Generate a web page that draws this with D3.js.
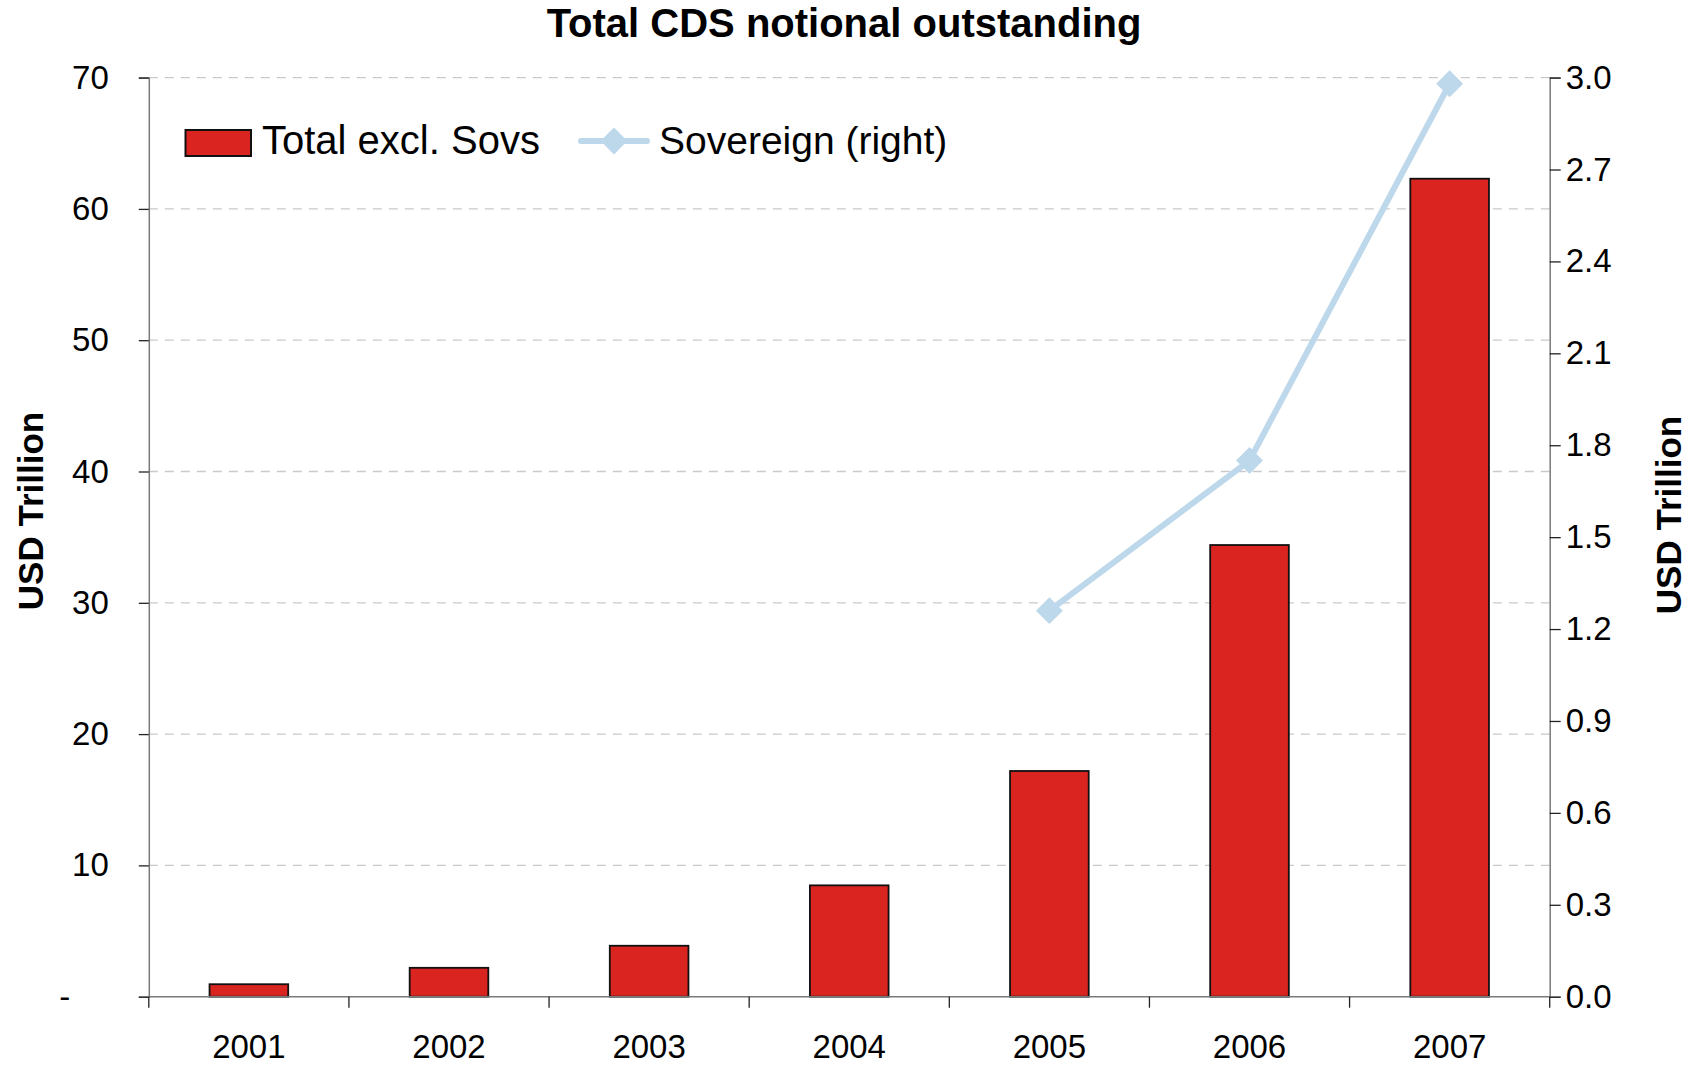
<!DOCTYPE html>
<html>
<head>
<meta charset="utf-8">
<script src="https://cdn.jsdelivr.net/npm/d3@7"></script>
<style>
  html, body { margin: 0; padding: 0; background: #fff; }
  svg { display: block; font-family: "Liberation Sans", Arial, sans-serif; }
</style>
</head>
<body>
<svg id="chart" width="1691" height="1067"></svg>
<script>
const years = ["2001", "2002", "2003", "2004", "2005", "2006", "2007"];
const totalExclSovs = [0.95, 2.2, 3.88, 8.48, 17.19, 34.4, 62.3];
const sovereign = [null, null, null, null, 1.26, 1.75, 2.98];
const leftTicks = [0, 10, 20, 30, 40, 50, 60, 70];
const rightTicks = [0.0, 0.3, 0.6, 0.9, 1.2, 1.5, 1.8, 2.1, 2.4, 2.7, 3.0];
const seriesNames = ["Total excl. Sovs", "Sovereign (right)"];
const titleText = "Total CDS notional outstanding";
const axisTitle = "USD Trillion";

const svg = d3.select("#chart");
const plot = { left: 148.8, right: 1549.7, top: 77.6, bottom: 996.7 };
const RED = "#da2420", BLUE = "#bdd7eb", AXIS = "#7a7a7a";

const x = d3.scaleBand().domain(years).range([plot.left, plot.right]).padding(0);
const yL = d3.scaleLinear().domain([0, 70]).range([plot.bottom, plot.top]);
const yR = d3.scaleLinear().domain([0, 3]).range([plot.bottom, plot.top]);
const barW = x.bandwidth() * 0.393;

// gridlines
svg.append("g").selectAll("line").data(leftTicks.filter(d => d > 0)).join("line")
  .attr("x1", plot.left).attr("x2", plot.right)
  .attr("y1", d => yL(d)).attr("y2", d => yL(d))
  .attr("stroke", "#c9c9c9").attr("stroke-width", 1.3).attr("stroke-dasharray", "9,7");

// bars
svg.append("g").selectAll("rect").data(years).join("rect")
  .attr("x", d => x(d) + (x.bandwidth() - barW) / 2)
  .attr("width", barW)
  .attr("y", (d, i) => yL(totalExclSovs[i]))
  .attr("height", (d, i) => plot.bottom - yL(totalExclSovs[i]))
  .attr("fill", RED).attr("stroke", "#111").attr("stroke-width", 1.8);

// left axis
const gL = svg.append("g").attr("transform", `translate(${plot.left},0)`)
  .call(d3.axisLeft(yL).tickValues(leftTicks).tickSize(10).tickPadding(30)
    .tickFormat(d => d === 0 ? "-" : d3.format("d")(d)));
gL.selectAll("text").attr("font-size", 33).attr("fill", "#000").attr("font-family", "Liberation Sans, Arial, sans-serif");
gL.selectAll(".tick").filter(d => d === 0).select("text")
  .attr("text-anchor", "start").attr("x", -89.5);
gL.select(".domain").attr("stroke", AXIS).attr("stroke-width", 1.5);
gL.selectAll(".tick line").attr("stroke", "#222").attr("stroke-width", 1.3);

// right axis
const gR = svg.append("g").attr("transform", `translate(${plot.right},0)`)
  .call(d3.axisRight(yR).tickValues(rightTicks).tickSize(11).tickPadding(5)
    .tickFormat(d3.format(".1f")));
gR.selectAll("text").attr("font-size", 33).attr("fill", "#000").attr("font-family", "Liberation Sans, Arial, sans-serif");
gR.select(".domain").attr("stroke", AXIS).attr("stroke-width", 1.5);
gR.selectAll(".tick line").attr("stroke", "#222").attr("stroke-width", 1.3);

// x axis baseline + ticks at category boundaries
svg.append("line").attr("x1", plot.left).attr("x2", plot.right)
  .attr("y1", plot.bottom).attr("y2", plot.bottom)
  .attr("stroke", AXIS).attr("stroke-width", 1.5);
const bounds = years.map(d => x(d)).concat([x(years[years.length - 1]) + x.bandwidth()]);
svg.append("g").selectAll("line").data(bounds).join("line")
  .attr("x1", d => d).attr("x2", d => d)
  .attr("y1", plot.bottom).attr("y2", plot.bottom + 11)
  .attr("stroke", "#222").attr("stroke-width", 1.3);
svg.append("g").selectAll("text").data(years).join("text")
  .attr("x", d => x(d) + x.bandwidth() / 2)
  .attr("y", plot.bottom + 61)
  .attr("text-anchor", "middle").attr("font-size", 33).attr("fill", "#000")
  .text(d => d);

// sovereign line
const sovPts = years.map((d, i) => ({ year: d, v: sovereign[i] })).filter(p => p.v !== null);
const line = d3.line().x(p => x(p.year) + x.bandwidth() / 2).y(p => yR(p.v));
svg.append("path").datum(sovPts).attr("d", line)
  .attr("fill", "none").attr("stroke", BLUE).attr("stroke-width", 6)
  .attr("stroke-linejoin", "round");
const diamond = d3.symbol().type(d3.symbolSquare).size(19 * 19);
svg.append("g").selectAll("path").data(sovPts).join("path")
  .attr("d", diamond)
  .attr("transform", p => `translate(${x(p.year) + x.bandwidth() / 2},${yR(p.v)}) rotate(45)`)
  .attr("fill", BLUE);

// title
svg.append("text").attr("x", 844).attr("y", 36.7).attr("text-anchor", "middle")
  .attr("font-size", 40).attr("font-weight", "bold").attr("fill", "#000").text(titleText);

// axis titles
svg.append("text").attr("transform", "translate(43,511) rotate(-90)")
  .attr("text-anchor", "middle").attr("font-size", 35).attr("font-weight", "bold").text(axisTitle);
svg.append("text").attr("transform", "translate(1681,515) rotate(-90)")
  .attr("text-anchor", "middle").attr("font-size", 35).attr("font-weight", "bold").text(axisTitle);

// legend
const lg = svg.append("g");
lg.append("rect").attr("x", 185.5).attr("y", 130).attr("width", 65.5).attr("height", 26)
  .attr("fill", RED).attr("stroke", "#111").attr("stroke-width", 2);
lg.append("text").attr("x", 262).attr("y", 154).attr("font-size", 40).text(seriesNames[0]);
lg.append("line").attr("x1", 581).attr("x2", 647).attr("y1", 141).attr("y2", 141)
  .attr("stroke", BLUE).attr("stroke-width", 6).attr("stroke-linecap", "round");
lg.append("path").attr("d", diamond).attr("transform", "translate(614,141) rotate(45)").attr("fill", BLUE);
lg.append("text").attr("x", 659).attr("y", 154).attr("font-size", 39).text(seriesNames[1]);
</script>
</body>
</html>
